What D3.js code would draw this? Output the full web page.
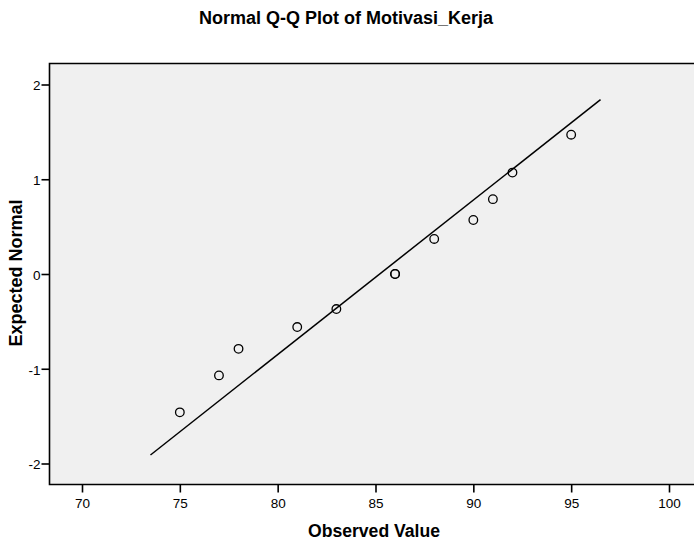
<!DOCTYPE html>
<html><head><meta charset="utf-8">
<script src="https://cdn.jsdelivr.net/npm/d3@7"></script>
<style>body{margin:0;background:#fff}svg{display:block;font-family:Arial,"Liberation Sans",sans-serif}</style>
</head><body>
<svg id="c" width="694" height="540"></svg>
<script>
const observed = [75, 77, 78, 81, 83, 86, 86, 88, 90, 91, 92, 95];
const expectedNormal = [-1.46, -1.07, -0.79, -0.56, -0.37, 0, 0, 0.37, 0.57, 0.79, 1.07, 1.47];
const lineX = [73.5, 96.5];
const lineY = [-1.91, 1.84];
const xTicks = [70, 75, 80, 85, 90, 95, 100];
const yTicks = [-2, -1, 0, 1, 2];

const svg = d3.select("#c");
const x = d3.scaleLinear().domain([70, 100]).range([82, 669]);
const y = d3.scaleLinear().domain([-2, 2]).range([463.5, 84.5]);
const L = 49.5, T = 63.5, B = 484.5, R = 700;

svg.append("rect").attr("x", L).attr("y", T).attr("width", R - L).attr("height", B - T)
  .attr("fill", "#f0f0f0");
svg.append("path").attr("d", `M${R},${T}H${L}V${B}H${R}`).attr("fill", "none")
  .attr("stroke", "#000").attr("stroke-width", 1.6);

const xAxis = svg.append("g").attr("transform", `translate(0,${B})`)
  .call(d3.axisBottom(x).tickValues(xTicks).tickSize(8).tickPadding(6).tickFormat((d) => String(d)));
xAxis.select(".domain").remove();
xAxis.selectAll("line").attr("stroke-width", 1.6);
xAxis.selectAll("text").attr("font-size", 13.5).attr("fill", "#000");

const yAxis = svg.append("g").attr("transform", `translate(${L},0)`)
  .call(d3.axisLeft(y).tickValues(yTicks).tickSize(8).tickPadding(1).tickFormat((d) => String(d)));
yAxis.select(".domain").remove();
yAxis.selectAll("line").attr("stroke-width", 1.6);
yAxis.selectAll("text").attr("font-size", 13.5).attr("fill", "#000").attr("dy", "0.4em");

svg.append("line")
  .attr("x1", x(lineX[0])).attr("y1", y(lineY[0]))
  .attr("x2", x(lineX[1])).attr("y2", y(lineY[1]))
  .attr("stroke", "#000").attr("stroke-width", 1.5);

svg.append("g").selectAll("circle").data(observed).join("circle")
  .attr("cx", (d) => x(d)).attr("cy", (d, i) => y(expectedNormal[i]))
  .attr("r", 4.3).attr("fill", "none").attr("stroke", "#000").attr("stroke-width", 1.3);

svg.append("text").attr("x", 346).attr("y", 24).attr("text-anchor", "middle")
  .attr("font-size", 18).attr("font-weight", "bold").text("Normal Q-Q Plot of Motivasi_Kerja");
svg.append("text").attr("x", 374).attr("y", 537).attr("text-anchor", "middle")
  .attr("font-size", 17.6).attr("font-weight", "bold").text("Observed Value");
svg.append("text").attr("transform", "translate(22,273) rotate(-90)").attr("text-anchor", "middle")
  .attr("font-size", 18).attr("font-weight", "bold").text("Expected Normal");
</script>
</body></html>
